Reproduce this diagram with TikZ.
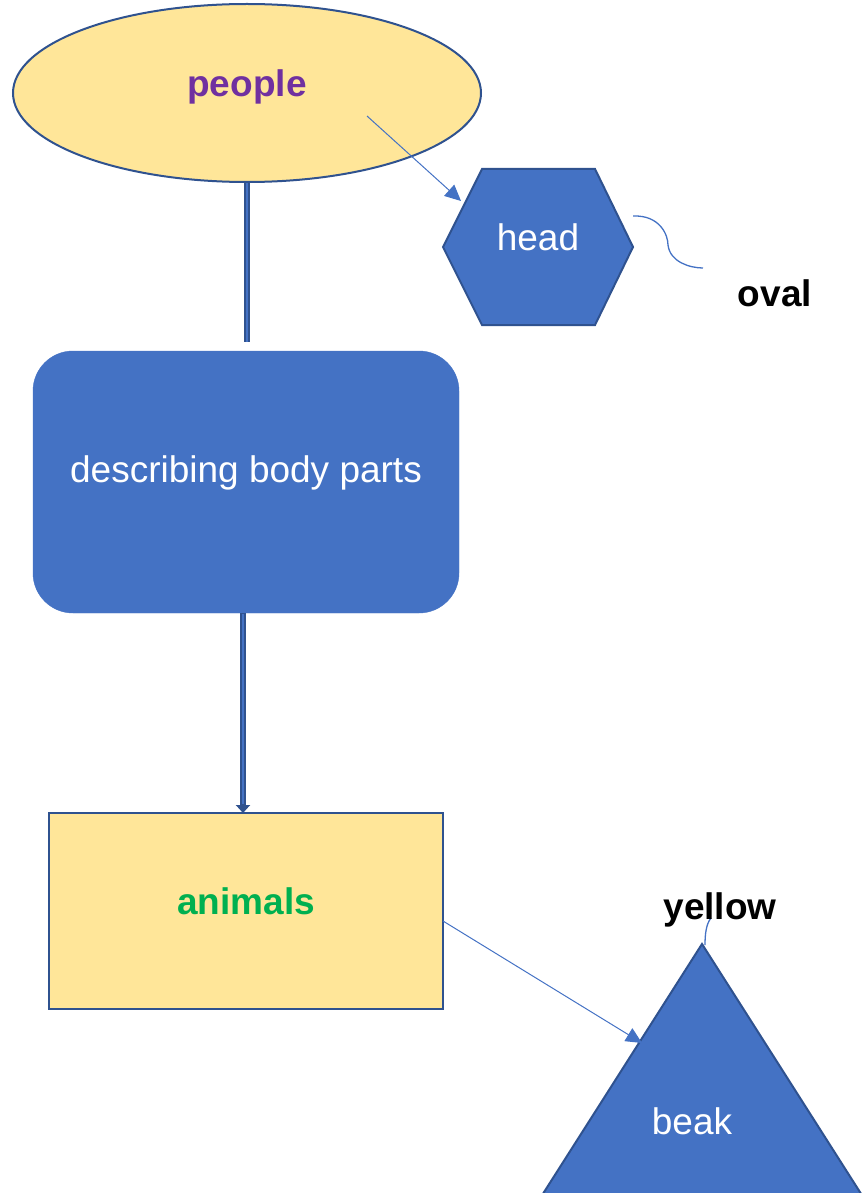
\documentclass[tikz,border=0pt]{standalone}
\usepackage{fontspec}
\setmainfont{Liberation Sans}
\usepackage{xcolor}
\usetikzlibrary{arrows.meta,shapes,positioning,calc}

\definecolor{shapeblue}{RGB}{68,114,196}
\definecolor{edgeblue}{RGB}{47,82,143}
\definecolor{paleyellow}{RGB}{255,230,153}
\definecolor{txtpurple}{RGB}{112,48,160}
\definecolor{txtgreen}{RGB}{0,176,80}

\tikzset{
	bigfont/.style={font=\fontsize{37}{44}\selectfont},
	wordlabel/.style={bigfont,text=white},
	boldlabel/.style={bigfont,font=\fontsize{37}{44}\selectfont\bfseries},
	thinarrow/.style={color=shapeblue,line width=1,-{Triangle[length=16pt,width=15pt]}},
	thinline/.style={color=shapeblue,line width=1.3},
	thickbar/.style={color=edgeblue,line width=6},
}

\begin{document}
\begin{tikzpicture}[x=1pt,y=1pt,yscale=-1,xscale=1]
	\useasboundingbox (0,0) rectangle (866,1193);
	\clip (0,0) rectangle (866,1193);

	%Shape: Ellipse [people]
	\node (people) [ellipse,draw=edgeblue,line width=2,fill=paleyellow,minimum width=468,minimum height=178,inner sep=0] at (247,93) {};
	%Shape: Rounded Rectangle [describing]
	\node (describing) [draw=shapeblue,fill=shapeblue,rounded corners=40,minimum width=426,minimum height=262,inner sep=0] at (246,482) {};
	%Shape: Rectangle [animals]
	\node (animals) [draw=edgeblue,line width=2,fill=paleyellow,minimum width=394,minimum height=196,inner sep=0] at (246,911) {};
	%Shape: Hexagon [head]
	\draw [draw=edgeblue,line width=2,fill=shapeblue] (443,247) -- (482,169) -- (595,169) -- (633,247) -- (595,325) -- (482,325) -- cycle ;
	%Shape: Triangle [beak]
	\draw [draw=edgeblue,line width=2,fill=shapeblue] (702,944) -- (865,1200) -- (539,1200) -- cycle ;

	%Straight Lines [people to describing]
	\coordinate (barend) at (247,342);
	\draw [thickbar] (people.south) -- (barend);
	\draw [color=shapeblue,line width=2] (people.south) -- (barend);
	%Straight Lines [describing to animals]
	\draw [thickbar,-{Triangle[length=8pt,width=14pt]}] (243,613) -- (243,813);
	\draw [color=shapeblue,line width=2] (243,614) -- (243,804);

	%Straight Lines [people to head]
	\coordinate (peoplestart) at (367,116);
	\coordinate (headin) at (461,201);
	\draw [thinarrow] (peoplestart) -- (headin);
	%Straight Lines [animals to beak]
	\coordinate (animalsout) at (443,921);
	\coordinate (beakin) at (642,1043);
	\draw [thinarrow] (animalsout) -- (beakin);

	%Curve Lines [head to oval]
	\coordinate (headout) at (633,216);
	\coordinate (ovalin) at (703,268);
	\draw [thinline] (headout) .. controls (660,215) and (668,235) .. (668,245) .. controls (670,262) and (690,268) .. (ovalin);
	%Curve Lines [yellow to beak]
	\coordinate (yellowout) at (711,918);
	\coordinate (beaktop) at (705,945);
	\draw [thinline] (yellowout) .. controls (706,924) and (705,935) .. (beaktop);

	% Text Node
	\node (peopletext) [boldlabel,text=txtpurple] at (247,87) {people};
	% Text Node
	\node (describingtext) [wordlabel] at (246,473) {describing body parts};
	% Text Node
	\node (animalstext) [boldlabel,text=txtgreen] at (246,901) {animals};
	% Text Node
	\node (headtext) [wordlabel] at (538,237) {head};
	% Text Node
	\node (ovaltext) [boldlabel,text=black] at (775,293) {oval};
	% Text Node
	\node (yellowtext) [boldlabel,text=black] at (720,910) {yellow};
	% Text Node
	\node (beaktext) [wordlabel] at (692,1121) {beak};
\end{tikzpicture}
\end{document}
